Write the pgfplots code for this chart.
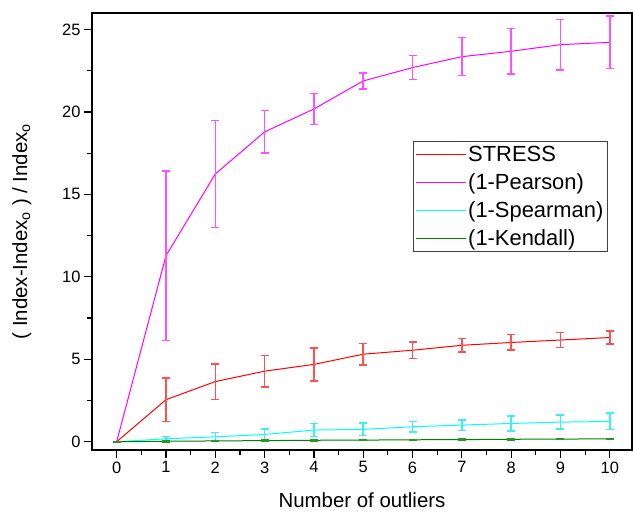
\documentclass[border=0pt]{standalone}
\usepackage{fontspec}
\setmainfont{Liberation Sans}
\usepackage{pgfplots}
\pgfplotsset{compat=1.18}

% columns: x, mean, error
\pgfplotstableread{
x y e
0 0 0
1 2.55 1.32
2 3.65 1.08
3 4.28 0.95
4 4.69 1.00
5 5.31 0.65
6 5.55 0.50
7 5.85 0.42
8 6.02 0.47
9 6.17 0.45
10 6.32 0.40
}\stress
\pgfplotstableread{
x y e
0 0 0
1 11.28 5.15
2 16.24 3.25
3 18.79 1.29
4 20.18 0.93
5 21.88 0.48
6 22.69 0.73
7 23.35 1.15
8 23.68 1.37
9 24.08 1.54
10 24.22 1.60
}\pearson
\pgfplotstableread{
x y e
0 0 0
1 0.18 0.14
2 0.30 0.26
3 0.44 0.33
4 0.71 0.40
5 0.75 0.38
6 0.91 0.32
7 1.01 0.32
8 1.11 0.45
9 1.19 0.43
10 1.23 0.50
}\spearman
\pgfplotstableread{
x y e
0 0 0
1 0.03 0.03
2 0.05 0.03
3 0.07 0.03
4 0.09 0.03
5 0.10 0.03
6 0.12 0.03
7 0.13 0.03
8 0.15 0.03
9 0.16 0.03
10 0.18 0.03
}\kendall

\definecolor{cred}{RGB}{255,0,0}
\definecolor{cmag}{RGB}{255,0,255}
\definecolor{ccyan}{RGB}{0,255,255}
\definecolor{cgreen}{RGB}{0,128,0}
\definecolor{ered}{RGB}{255,80,80}
\definecolor{emag}{RGB}{255,80,255}
\definecolor{ecyan}{RGB}{60,240,240}
\definecolor{egreen}{RGB}{40,150,40}

\pgfplotsset{
    series/.style 2 args={draw=#1, line width=1bp,
        error bars/error bar style={draw=#2, line width=1.5bp},
        error bars/error mark options={draw=#2, line width=1.5bp, mark size=4bp, rotate=90}},
}

\begin{document}
\begin{tikzpicture}
\begin{axis}[
    name=ax,
    scale only axis,
    width=540bp, height=437bp,
    xmin=-0.5, xmax=10.45,
    ymin=-0.5, ymax=26,
    xtick={0,1,...,10},
    ytick={0,5,...,25},
    minor x tick num=1,
    minor y tick num=1,
    xtick pos=bottom, ytick pos=left,
    tick align=outside,
    major tick length=8bp,
    minor tick length=4.5bp,
    axis line style={line width=1.4bp},
    every tick/.style={black, line width=1.2bp},
    /pgf/number format/assume math mode=true,
    ticklabel style={font=\fontsize{16.5}{20}\selectfont},
    xlabel={Number of outliers},
    ylabel={( Index-Index\textsubscript{o} ) / Index\textsubscript{o}},
    label style={font=\fontsize{20.5}{24}\selectfont},
    xlabel style={at={(axis description cs:0.5,-0.114)}, anchor=center},
    ylabel style={at={(axis description cs:-0.13,0.5)}, anchor=center, rotate=0},
    legend style={at={(axis description cs:0.594,0.707)}, anchor=north west,
        draw=black!75, line width=0.9bp,
        font=\fontsize{22}{26}\selectfont,
        inner xsep=2bp, inner ysep=3bp, row sep=6.5bp},
    legend cell align=left,
    legend image code/.code={\draw[line width=1bp] (0bp,0bp) -- (50bp,0bp);},
    error bars/y dir=both,
    error bars/y explicit,
]
\addplot[series={cred}{ered}] table[x=x, y=y, y error=e] {\stress};
\addlegendentry{STRESS}
\addplot[series={cmag}{emag}] table[x=x, y=y, y error=e] {\pearson};
\addlegendentry{(1-Pearson)}
\addplot[series={ccyan}{ecyan}] table[x=x, y=y, y error=e] {\spearman};
\addlegendentry{(1-Spearman)}
\addplot[series={cgreen}{egreen}] table[x=x, y=y, y error=e] {\kendall};
\addlegendentry{(1-Kendall)}
\end{axis}
\pgfresetboundingbox
\path[use as bounding box] ([xshift=-92bp,yshift=-64bp]ax.south west) rectangle ([xshift=1bp,yshift=13bp]ax.north east);
\end{tikzpicture}
\end{document}
